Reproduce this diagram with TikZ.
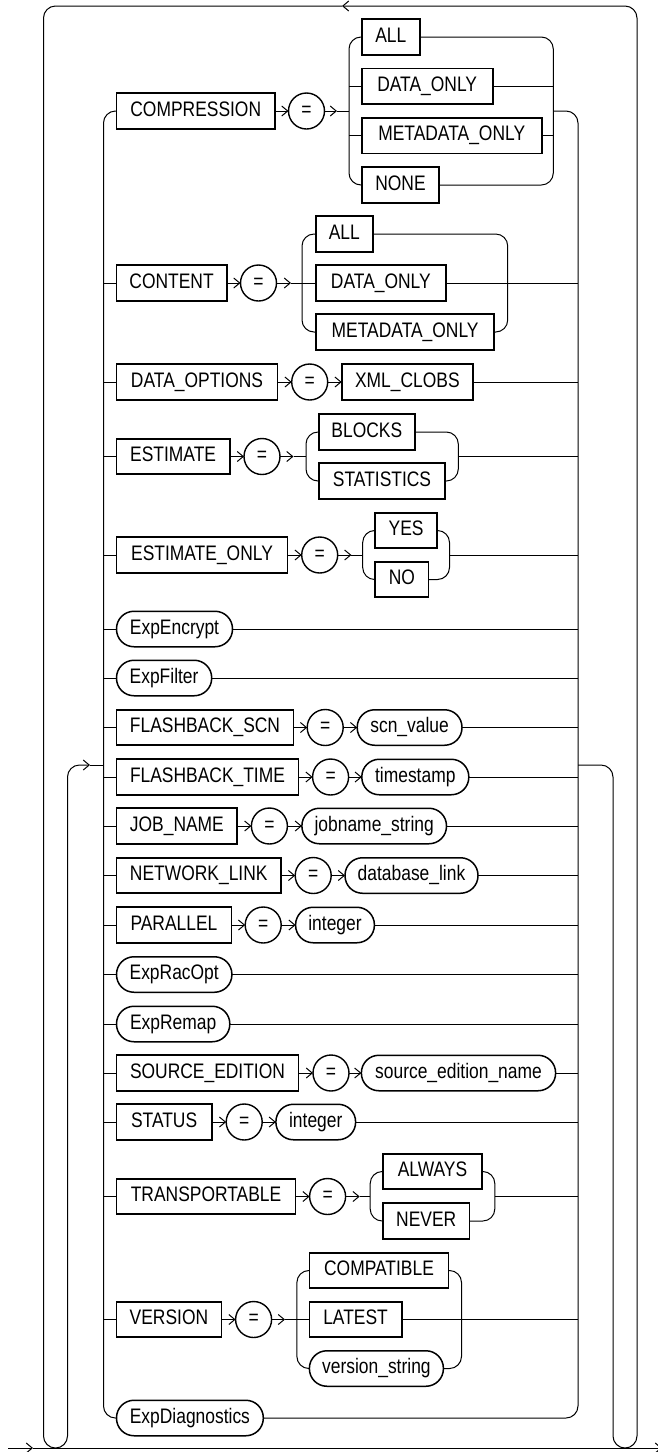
\documentclass[tikz,border=0pt]{standalone}
\usepackage{fontspec}
\newfontfamily\rrfont[FakeStretch=0.83]{Liberation Sans}
\usetikzlibrary{arrows.meta}
\begin{document}
\begin{tikzpicture}[x=1pt,y=-1pt,
  ln/.style={line width=1pt},
  arr/.style={-{Straight Barb[length=6pt,width=10pt,line width=1pt]}},
  txt/.style={font=\rrfont\fontsize{21}{23}\selectfont, text height=15pt, text depth=4.5pt, inner sep=0pt, outer sep=0pt},
  kw/.style={txt, draw, line width=1.7pt, rectangle, minimum height=35.5pt, anchor=west},
  nt/.style={kw, line width=1.5pt, rounded corners=17.5pt},
  eq/.style={txt, draw, line width=1.4pt, circle, minimum size=36pt},
  rc/.style={ln, rounded corners=12pt},
]
\useasboundingbox (0,0) rectangle (658,1452);
\coordinate (L) at (103.5,0);
\coordinate (R) at (578,0);

% ---------- row 1: COMPRESSION
\node[kw, minimum width=158.5pt] (k1) at (116.5,111) {COMPRESSION};
\node[eq] (e1) at (306.5,111) {=};
\coordinate (t1) at (337,111); \coordinate (s1L) at (349,111); \coordinate (s1R) at (553.3,111);
\node[kw, minimum width=58.3pt] (a1) at (361.7,37) {ALL};
\node[kw, minimum width=131pt] (b1) at (361.7,86.3) {DATA\_ONLY};
\node[kw, minimum width=180pt] (c1) at (361.7,135.7) {METADATA\_ONLY};
\node[kw, minimum width=77.6pt] (d1) at (361.7,185) {NONE};
\draw[ln,arr] (k1) -- (e1);
\draw[ln,arr] (e1) -- (t1);
\draw[ln] (t1) -- (s1L);
\draw[rc] (a1.west) -- (s1L |- a1.west) -- (s1L |- d1.west) -- (d1.west);
\draw[ln] (s1L |- b1.west) -- (b1.west);
\draw[ln] (s1L |- c1.west) -- (c1.west);
\draw[rc] (a1.east) -- (s1R |- a1.east) -- (s1R |- d1.east) -- (d1.east);
\draw[ln] (b1.east) -- (s1R |- b1.east);
\draw[ln] (c1.east) -- (s1R |- c1.east);

% ---------- row 2: CONTENT
\node[kw, minimum width=110.2pt] (k2) at (116.5,283) {CONTENT};
\node[eq] (e2) at (258.5,283) {=};
\coordinate (t2) at (291,283); \coordinate (s2L) at (302,283); \coordinate (s2R) at (507.7,283);
\node[kw, minimum width=56.7pt] (a2) at (316,234) {ALL};
\node[kw, minimum width=129.7pt] (b2) at (316,283) {DATA\_ONLY};
\node[kw, minimum width=178.3pt] (c2) at (316,332) {METADATA\_ONLY};
\draw[ln] (L |- k2.west) -- (k2.west);
\draw[ln,arr] (k2) -- (e2);
\draw[ln,arr] (e2) -- (t2);
\draw[ln] (t2) -- (b2.west);
\draw[rc] (a2.west) -- (s2L |- a2.west) -- (s2L |- c2.west) -- (c2.west);
\draw[rc] (a2.east) -- (s2R |- a2.east) -- (s2R |- c2.east) -- (c2.east);
\draw[ln] (b2.east) -- (R |- b2.east);

% ---------- row 3: DATA_OPTIONS
\node[kw, minimum width=161pt] (k3) at (116.5,382) {DATA\_OPTIONS};
\node[eq] (e3) at (309.7,382) {=};
\node[kw, minimum width=131.3pt] (v3) at (341.7,382) {XML\_CLOBS};
\draw[ln] (L |- k3.west) -- (k3.west);
\draw[ln,arr] (k3) -- (e3);
\draw[ln,arr] (e3) -- (v3);
\draw[ln] (v3.east) -- (R |- v3.east);

% ---------- row 4: ESTIMATE
\node[kw, minimum width=113.3pt] (k4) at (116.5,456.5) {ESTIMATE};
\node[eq] (e4) at (262,456.5) {=};
\coordinate (t4) at (293.5,456.5); \coordinate (s4L) at (306,456.5); \coordinate (s4R) at (458.3,456.5);
\node[kw, minimum width=96.3pt] (a4) at (318.7,432) {BLOCKS};
\node[kw, minimum width=126.6pt] (b4) at (318.7,481) {STATISTICS};
\draw[ln] (L |- k4.west) -- (k4.west);
\draw[ln,arr] (k4) -- (e4);
\draw[ln,arr] (e4) -- (t4);
\draw[ln] (t4) -- (s4L);
\draw[rc] (a4.west) -- (s4L |- a4.west) -- (s4L |- b4.west) -- (b4.west);
\draw[rc] (a4.east) -- (s4R |- a4.east) -- (s4R |- b4.east) -- (b4.east);
\draw[ln] (s4R) -- (R |- s4R);

% ---------- row 5: ESTIMATE_ONLY
\node[kw, minimum width=171pt] (k5) at (116.5,555) {ESTIMATE\_ONLY};
\node[eq] (e5) at (319.7,555) {=};
\coordinate (t5) at (351.4,555); \coordinate (s5L) at (362.7,555); \coordinate (s5R) at (449.5,555);
\node[kw, minimum width=61.6pt] (a5) at (375.3,530.5) {YES};
\node[kw, minimum width=53.2pt] (b5) at (375.3,579.5) {NO};
\draw[ln] (L |- k5.west) -- (k5.west);
\draw[ln,arr] (k5) -- (e5);
\draw[ln,arr] (e5) -- (t5);
\draw[ln] (t5) -- (s5L);
\draw[rc] (a5.west) -- (s5L |- a5.west) -- (s5L |- b5.west) -- (b5.west);
\draw[rc] (a5.east) -- (s5R |- a5.east) -- (s5R |- b5.east) -- (b5.east);
\draw[ln] (s5R) -- (R |- s5R);

% ---------- row 6, 7
\node[nt, minimum width=116pt] (n6) at (116.5,629) {ExpEncrypt};
\draw[ln] (L |- n6.west) -- (n6.west);
\draw[ln] (n6.east) -- (R |- n6.east);
\node[nt, minimum width=95.2pt] (n7) at (116.5,678) {ExpFilter};
\draw[ln] (L |- n7.west) -- (n7.west);
\draw[ln] (n7.east) -- (R |- n7.east);

% ---------- row 8: FLASHBACK_SCN
\node[kw, minimum width=177pt] (k8) at (116.5,727.5) {FLASHBACK\_SCN};
\node[eq] (e8) at (325.2,727.5) {=};
\node[nt, minimum width=104.8pt] (n8) at (357.2,727.5) {scn\_value};
\draw[ln] (L |- k8.west) -- (k8.west);
\draw[ln,arr] (k8) -- (e8);
\draw[ln,arr] (e8) -- (n8);
\draw[ln] (n8.east) -- (R |- n8.east);

% ---------- row 9: FLASHBACK_TIME
\node[kw, minimum width=182pt] (k9) at (116.5,777) {FLASHBACK\_TIME};
\node[eq] (e9) at (330.6,777) {=};
\node[nt, minimum width=107pt] (n9) at (361.8,777) {timestamp};
\draw[ln] (L |- k9.west) -- (k9.west);
\draw[ln,arr] (k9) -- (e9);
\draw[ln,arr] (e9) -- (n9);
\draw[ln] (n9.east) -- (R |- n9.east);

% ---------- row 10: JOB_NAME
\node[kw, minimum width=120.8pt] (k10) at (116.5,826) {JOB\_NAME};
\node[eq] (e10) at (269.4,826) {=};
\node[nt, minimum width=144.6pt] (n10) at (301.9,826) {jobname\_string};
\draw[ln] (L |- k10.west) -- (k10.west);
\draw[ln,arr] (k10) -- (e10);
\draw[ln,arr] (e10) -- (n10);
\draw[ln] (n10.east) -- (R |- n10.east);

% ---------- row 11: NETWORK_LINK
\node[kw, minimum width=164.5pt] (k11) at (116.5,875.5) {NETWORK\_LINK};
\node[eq] (e11) at (313.2,875.5) {=};
\node[nt, minimum width=133pt] (n11) at (345,875.5) {database\_link};
\draw[ln] (L |- k11.west) -- (k11.west);
\draw[ln,arr] (k11) -- (e11);
\draw[ln,arr] (e11) -- (n11);
\draw[ln] (n11.east) -- (R |- n11.east);

% ---------- row 12: PARALLEL
\node[kw, minimum width=114.9pt] (k12) at (116.5,925) {PARALLEL};
\node[eq] (e12) at (263.2,925) {=};
\node[nt, minimum width=78.8pt] (n12) at (295.6,925) {integer};
\draw[ln] (L |- k12.west) -- (k12.west);
\draw[ln,arr] (k12) -- (e12);
\draw[ln,arr] (e12) -- (n12);
\draw[ln] (n12.east) -- (R |- n12.east);

% ---------- row 13, 14
\node[nt, minimum width=115.4pt] (n13) at (116.5,974.5) {ExpRacOpt};
\draw[ln] (L |- n13.west) -- (n13.west);
\draw[ln] (n13.east) -- (R |- n13.east);
\node[nt, minimum width=113.3pt] (n14) at (116.5,1024) {ExpRemap};
\draw[ln] (L |- n14.west) -- (n14.west);
\draw[ln] (n14.east) -- (R |- n14.east);

% ---------- row 15: SOURCE_EDITION
\node[kw, minimum width=182pt] (k15) at (116.5,1073) {SOURCE\_EDITION};
\node[eq] (e15) at (331,1073) {=};
\node[nt, minimum width=194.2pt] (n15) at (361.4,1073) {source\_edition\_name};
\draw[ln] (L |- k15.west) -- (k15.west);
\draw[ln,arr] (k15) -- (e15);
\draw[ln,arr] (e15) -- (n15);
\draw[ln] (n15.east) -- (R |- n15.east);

% ---------- row 16: STATUS
\node[kw, minimum width=95.2pt] (k16) at (116.5,1122) {STATUS};
\node[eq] (e16) at (244.2,1122) {=};
\node[nt, minimum width=79.7pt] (n16) at (275.9,1122) {integer};
\draw[ln] (L |- k16.west) -- (k16.west);
\draw[ln,arr] (k16) -- (e16);
\draw[ln,arr] (e16) -- (n16);
\draw[ln] (n16.east) -- (R |- n16.east);

% ---------- row 17: TRANSPORTABLE
\node[kw, minimum width=179.1pt] (k17) at (116.5,1196.5) {TRANSPORTABLE};
\node[eq] (e17) at (327.6,1196.5) {=};
\coordinate (t17) at (359.7,1196.5); \coordinate (s17L) at (370.2,1196.5); \coordinate (s17R) at (494.8,1196.5);
\node[kw, minimum width=99.4pt] (a17) at (382.8,1171.5) {ALWAYS};
\node[kw, minimum width=86.8pt] (b17) at (382.8,1221) {NEVER};
\draw[ln] (L |- k17.west) -- (k17.west);
\draw[ln,arr] (k17) -- (e17);
\draw[ln,arr] (e17) -- (t17);
\draw[ln] (t17) -- (s17L);
\draw[rc] (a17.west) -- (s17L |- a17.west) -- (s17L |- b17.west) -- (b17.west);
\draw[rc] (a17.east) -- (s17R |- a17.east) -- (s17R |- b17.east) -- (b17.east);
\draw[ln] (s17R) -- (R |- s17R);

% ---------- row 18: VERSION
\node[kw, minimum width=104.9pt] (k18) at (116.5,1319.5) {VERSION};
\node[eq] (e18) at (253.6,1319.5) {=};
\coordinate (t18) at (285,1319.5); \coordinate (s18L) at (296.9,1319.5); \coordinate (s18R) at (461.5,1319.5);
\node[kw, minimum width=139.2pt] (a18) at (309.4,1270.5) {COMPATIBLE};
\node[kw, minimum width=92.3pt] (b18) at (309.4,1319.5) {LATEST};
\node[nt, minimum width=134pt] (c18) at (309.4,1368.5) {version\_string};
\draw[ln] (L |- k18.west) -- (k18.west);
\draw[ln,arr] (k18) -- (e18);
\draw[ln,arr] (e18) -- (t18);
\draw[ln] (t18) -- (b18.west);
\draw[rc] (a18.west) -- (s18L |- a18.west) -- (s18L |- c18.west) -- (c18.west);
\draw[rc] (a18.east) -- (s18R |- a18.east) -- (s18R |- c18.east) -- (c18.east);
\draw[ln] (b18.east) -- (R |- b18.east);

% ---------- row 19: ExpDiagnostics
\node[nt, minimum width=146.8pt] (n19) at (116.5,1418) {ExpDiagnostics};

% ---------- inner choice verticals
\draw[rc] (k1.west) -- (L |- k1.west) -- (L |- n19.west) -- (n19.west);
\draw[rc] (s1R) -- (R |- s1R) -- (R |- n19.east) -- (n19.east);

% ---------- main line and loops
\coordinate (mS) at (8,1448); \coordinate (mA) at (33,1448); \coordinate (mE) at (662,1448);
\draw[ln,arr] (mS) -- (mA);
\draw[ln,arr] (mA) -- (mE);
\coordinate (oBL) at (43.5,1448); \coordinate (oTL) at (43.5,6); \coordinate (oTip) at (342,6);
\coordinate (oTR) at (637,6); \coordinate (oBR) at (637,1448);
\coordinate (uL) at (55.5,1448); \coordinate (uR) at (625,1448);
\draw[rc,arr] (uR) -- (oBR) -- (oTR) -- (oTip);
\draw[rc] (oTip) -- (oTL) -- (oBL) -- (uL);
\coordinate (eB) at (67.5,1448); \coordinate (eT) at (67.5,765); \coordinate (eTip) at (90,765); \coordinate (Lin) at (103.5,765);
\draw[rc,arr] (uL) -- (eB) -- (eT) -- (eTip);
\draw[ln] (eTip) -- (Lin);
\coordinate (Rout) at (578,765); \coordinate (xT) at (613,765); \coordinate (xB) at (613,1448);
\draw[rc] (Rout) -- (xT) -- (xB) -- (uR);
\end{tikzpicture}
\end{document}
